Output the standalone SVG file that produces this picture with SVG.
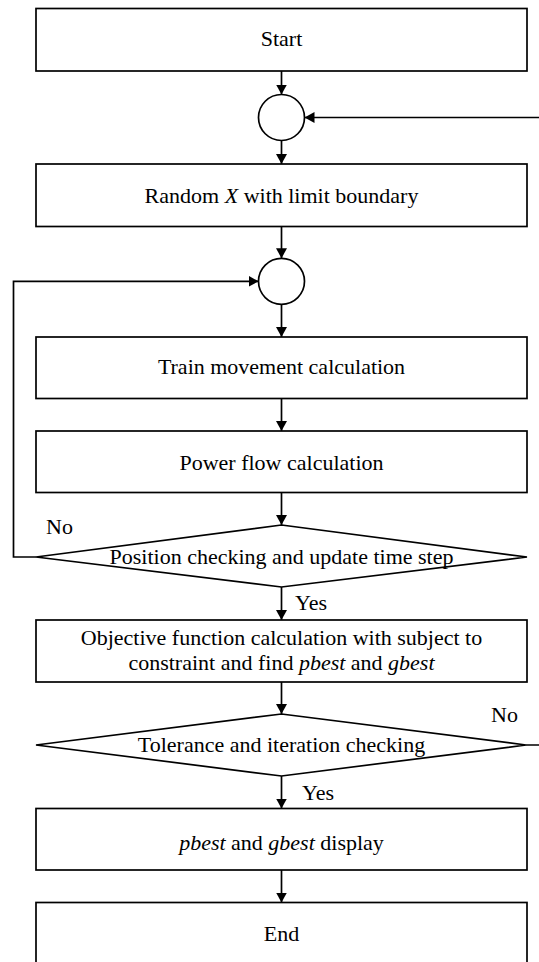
<svg xmlns="http://www.w3.org/2000/svg" width="539" height="962" viewBox="0 0 539 962">
<style>
.box{fill:#fff;stroke:#000;stroke-width:1.7}
.ln{fill:none;stroke:#000;stroke-width:1.7}
text{font-family:"Liberation Serif","Times New Roman",serif;font-size:22px;fill:#000}
.c{text-anchor:middle}
.i{font-style:italic}
</style>
<defs>
<marker id="ah" markerWidth="10" markerHeight="11" refX="10" refY="5.5" orient="auto" markerUnits="userSpaceOnUse">
<path d="M0,0 L10,5.5 L0,11 Z" fill="#000"/>
</marker>
</defs>
<rect width="539" height="962" fill="#fff"/>
<g id="connectors">
<line class="ln" x1="281.5" y1="71" x2="281.5" y2="94.5" marker-end="url(#ah)"/>
<line class="ln" x1="281.5" y1="140.5" x2="281.5" y2="164" marker-end="url(#ah)"/>
<line class="ln" x1="281.5" y1="226" x2="281.5" y2="258.3" marker-end="url(#ah)"/>
<line class="ln" x1="281.5" y1="304.3" x2="281.5" y2="337" marker-end="url(#ah)"/>
<line class="ln" x1="281.5" y1="398" x2="281.5" y2="431" marker-end="url(#ah)"/>
<line class="ln" x1="281.5" y1="492" x2="281.5" y2="525" marker-end="url(#ah)"/>
<line class="ln" x1="281.5" y1="587" x2="281.5" y2="620" marker-end="url(#ah)"/>
<line class="ln" x1="281.5" y1="682" x2="281.5" y2="714" marker-end="url(#ah)"/>
<line class="ln" x1="281.5" y1="776" x2="281.5" y2="808.5" marker-end="url(#ah)"/>
<line class="ln" x1="281.5" y1="870" x2="281.5" y2="902.5" marker-end="url(#ah)"/>
<polyline class="ln" points="36,557 13.5,557 13.5,281.3 258.5,281.3" marker-end="url(#ah)"/>
<polyline class="ln" points="526,745 541,745 541,117.5 304.5,117.5" marker-end="url(#ah)"/>
</g>
<g id="start"><rect class="box" x="36" y="8.5" width="491" height="62.5"/><text class="c" x="281.5" y="46">Start</text></g>
<g id="junction1"><circle class="box" cx="281.5" cy="117.5" r="23"/></g>
<g id="random"><rect class="box" x="36" y="164" width="491" height="62.5"/><text class="c" x="281.5" y="202.5">Random <tspan class="i">X</tspan> with limit boundary</text></g>
<g id="junction2"><circle class="box" cx="281.5" cy="281.3" r="23"/></g>
<g id="train"><rect class="box" x="36" y="337" width="491" height="61.5"/><text class="c" x="281.5" y="373.5">Train movement calculation</text></g>
<g id="power"><rect class="box" x="36" y="431" width="491" height="61.5"/><text class="c" x="281.5" y="469.5">Power flow calculation</text></g>
<g id="position"><polygon class="box" points="281.5,525 527,557 281.5,587 36,557"/><text class="c" x="281.5" y="563.5">Position checking and update time step</text><text x="46" y="533.5">No</text><text x="295" y="610">Yes</text></g>
<g id="objective"><rect class="box" x="36" y="620" width="491" height="62"/><text class="c" x="281.5" y="644.5">Objective function calculation with subject to</text><text class="c" x="281.5" y="669.5">constraint and find <tspan class="i">pbest</tspan> and <tspan class="i">gbest</tspan></text></g>
<g id="tolerance"><polygon class="box" points="281.5,714 526,745 281.5,776 36,745"/><text class="c" x="281.5" y="752">Tolerance and iteration checking</text><text x="491" y="722">No</text><text x="302" y="800">Yes</text></g>
<g id="display"><rect class="box" x="36" y="808.5" width="491" height="61.5"/><text class="c" x="281.5" y="849.5"><tspan class="i">pbest</tspan> and <tspan class="i">gbest</tspan> display</text></g>
<g id="end"><rect class="box" x="36" y="902.5" width="491" height="70"/><text class="c" x="281.5" y="941">End</text></g>
</svg>
